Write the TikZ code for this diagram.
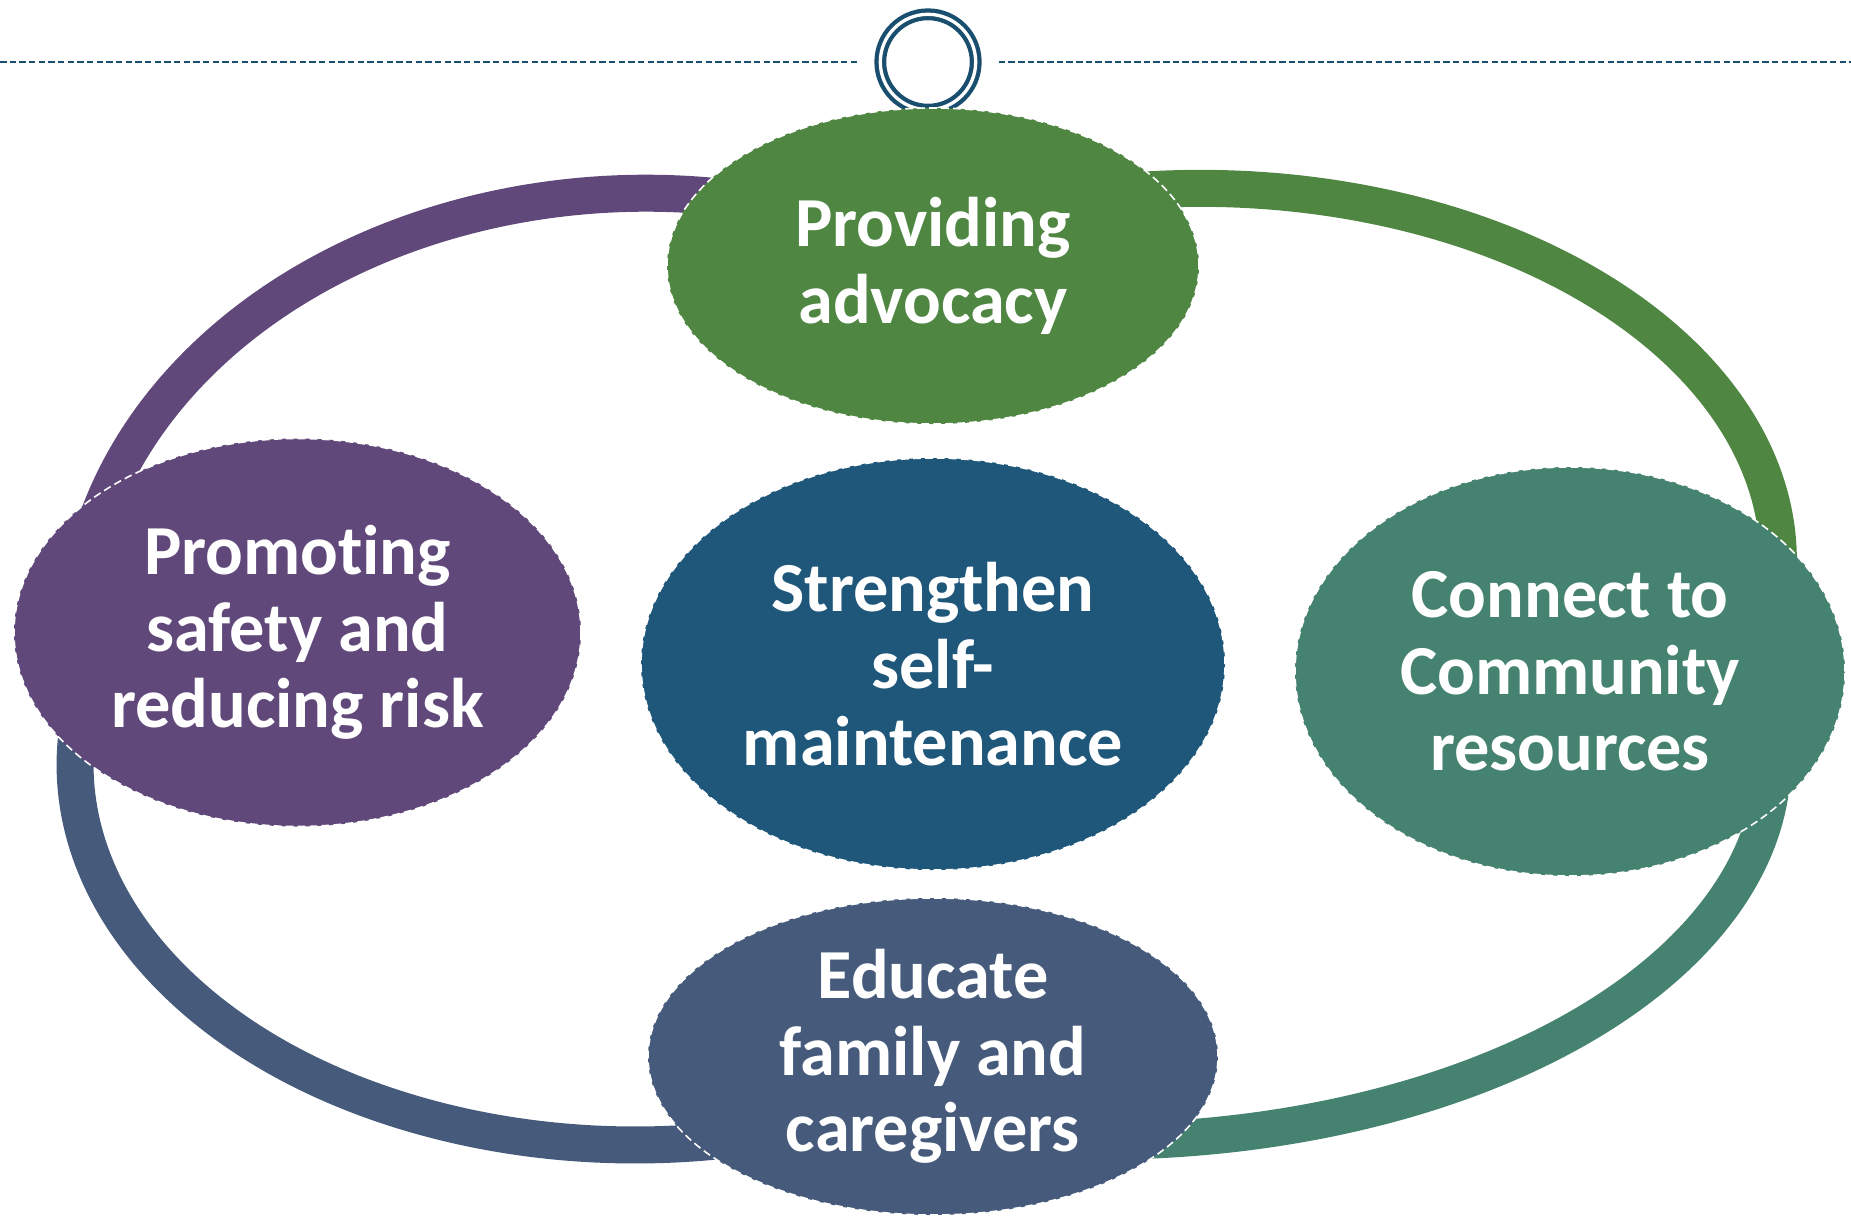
\documentclass[tikz,border=0pt]{standalone}
\usepackage{fontspec}
\setmainfont{Carlito}[Ligatures=NoCommon]
\usepackage{tikz}
\usetikzlibrary{shapes.geometric}

\definecolor{greenC}{HTML}{4F8642}
\definecolor{purpleC}{HTML}{60497A}
\definecolor{blueC}{HTML}{1F577A}
\definecolor{tealC}{HTML}{458270}
\definecolor{slateC}{HTML}{465B7B}
\definecolor{lineC}{HTML}{194E6E}

\tikzset{
    bubble/.style={ellipse, draw=white, line width=0.45pt, dash pattern=on 2.2pt off 1.2pt,
        text=white, align=center, inner sep=0pt,
        font=\bfseries\fontsize{20}{21.8}\selectfont},
    seg/.style={line width=0.37cm},
    knot/.style={circle, draw=lineC, line width=1.22pt, double=white, double distance=0.94pt,
        minimum size=0.954cm, inner sep=0pt, outer sep=0.23cm},
    rule/.style={draw=lineC, line width=0.48pt, dash pattern=on 1.85pt off 0.9pt}
}

\begin{document}
\begin{tikzpicture}
\useasboundingbox (0,0) rectangle (18.51,12.17);

% top rule with the ring
\node[knot] (knot) at ( 9.28, 11.55 ) {};
\coordinate (ruleL) at ( 0, 11.55 );
\coordinate (ruleR) at ( 18.51, 11.55 );
\draw[rule] (ruleL) -- (knot.west);
\draw[rule] (knot.east) -- (ruleR);

% ring segments, their ends hide under the bubbles
\coordinate (purpleStart) at ( 7.45, 10.17 );
\coordinate (greenStart)  at ( 11.00, 10.23 );
\coordinate (tealStart)   at ( 17.70, 4.90 );
\coordinate (slateStart)  at ( 1.09, 5.82 );
\draw[seg, purpleC] (purpleStart) arc[start angle=80,  end angle=180,  x radius=5.70, y radius=4.47];
\draw[seg, greenC]  (greenStart)  arc[start angle=100, end angle=-5,   x radius=5.78, y radius=3.72];
\draw[seg, tealC]   (tealStart)   arc[start angle=5,   end angle=-100, x radius=6.73, y radius=3.81];
\draw[seg, slateC]  (slateStart)  arc[start angle=160, end angle=290,  x radius=5.60, y radius=3.80];

% bubbles
\node[bubble] (adv)  at ( 9.33, 9.51 )  [fill=greenC,  minimum width=5.32cm, minimum height=3.16cm] {Providing\\advocacy};
\node[bubble] (risk) at ( 2.975, 5.845 ) [fill=purpleC, minimum width=5.67cm, minimum height=3.88cm] {Promoting\\safety and\\reducing risk};
\node[bubble] (self) at ( 9.33, 5.53 )  [fill=blueC,   minimum width=5.84cm, minimum height=4.12cm] {Strengthen\\self-\\maintenance};
\node[bubble] (comm) at ( 15.70, 5.455 ) [fill=tealC,   minimum width=5.50cm, minimum height=4.09cm] {Connect to\\Community\\resources};
\node[bubble] (edu)  at ( 9.33, 1.605 ) [fill=slateC,  minimum width=5.70cm, minimum height=3.17cm] {Educate\\family and\\caregivers};
\end{tikzpicture}
\end{document}
